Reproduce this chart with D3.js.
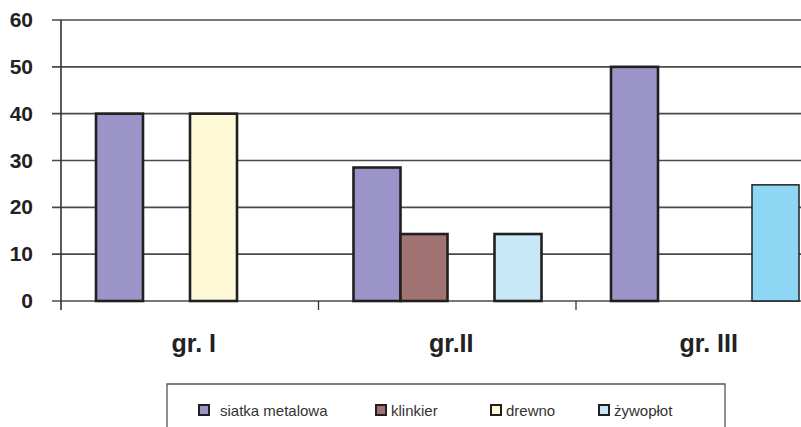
<!DOCTYPE html>
<html><head><meta charset="utf-8">
<script src="https://cdn.jsdelivr.net/npm/d3@7"></script>
<style>body{margin:0;background:#fff}svg{display:block}</style>
</head><body>
<svg id="c" width="801" height="427"></svg>
<script>
const categories = ["gr. I", "gr.II", "gr. III"];
const seriesNames = ["siatka metalowa", "klinkier", "drewno", "żywopłot"];
const siatka = [40, 28.5, 50];
const klinkier = [0, 14.3, 0];
const drewno = [40, 0, 0];
const zywoplot = [0, 14.3, 24.8];
const yTicks = [0, 10, 20, 30, 40, 50, 60];
const colors = ["#9b94c8", "#a07272", "#fefad8", "#c8e8f7"];
const zywoplotGr3Color = "#8dd7f4";

const values = [siatka, klinkier, drewno, zywoplot];
const svg = d3.select("#c");
const font = "Arial, 'Liberation Sans', sans-serif";

const x = d3.scaleBand().domain(categories).range([61, 61 + 257.5 * 3]).paddingInner(0).paddingOuter(0);
const y = d3.scaleLinear().domain([0, 60]).range([301, 20]);
const inner = d3.scaleBand().domain(seriesNames).range([35, 35 + 47 * 4]);

// gridlines
svg.append("g").selectAll("line").data(yTicks).join("line")
  .attr("x1", 52).attr("x2", 801)
  .attr("y1", d => y(d)).attr("y2", d => y(d))
  .attr("stroke", "#4a4a4a").attr("stroke-width", 1.6);

// y axis line
svg.append("line").attr("x1", 61).attr("x2", 61).attr("y1", y(60)).attr("y2", 310)
  .attr("stroke", "#333").attr("stroke-width", 1.6);

// x ticks
svg.append("g").selectAll("line").data(categories.slice(1).concat(["end"])).join("line")
  .attr("x1", (d, i) => 61 + 257.5 * (i + 1)).attr("x2", (d, i) => 61 + 257.5 * (i + 1))
  .attr("y1", 301).attr("y2", 310)
  .attr("stroke", "#333").attr("stroke-width", 1.3);

// y labels
svg.append("g").selectAll("text").data(yTicks).join("text")
  .attr("x", 33).attr("y", d => y(d) + 7)
  .attr("text-anchor", "end")
  .attr("font-family", font).attr("font-weight", "bold").attr("font-size", 21)
  .attr("fill", "#222").text(d => d);

// bars
seriesNames.forEach((s, si) => {
  svg.append("g").selectAll("rect")
    .data(categories.map((c, ci) => ({c, ci, v: values[si][ci]})).filter(d => d.v > 0))
    .join("rect")
    .attr("x", d => x(d.c) + inner(s))
    .attr("width", inner.bandwidth())
    .attr("y", d => y(d.v))
    .attr("height", d => y(0) - y(d.v))
    .attr("fill", d => (si === 3 && d.ci === 2) ? zywoplotGr3Color : colors[si])
    .attr("stroke", "#231f20")
    .attr("stroke-width", d => (si === 3 && d.ci === 2) ? 1.5 : 2.6);
});

// category labels
svg.append("g").selectAll("text").data(categories).join("text")
  .attr("x", d => x(d) + x.bandwidth() / 2 + 4)
  .attr("y", 352)
  .attr("text-anchor", "middle")
  .attr("font-family", font).attr("font-weight", "bold").attr("font-size", 25)
  .attr("fill", "#222").text(d => d);

// legend
svg.append("path").attr("d", "M167,427 V384 H725 V427")
  .attr("fill", "none").attr("stroke", "#555").attr("stroke-width", 1.3);
const legX = [199, 376, 491, 599];
const leg = svg.append("g").selectAll("g").data(seriesNames).join("g")
  .attr("transform", (d, i) => `translate(${legX[i]},405)`);
leg.append("rect").attr("width", 10).attr("height", 10)
  .attr("fill", (d, i) => colors[i]).attr("stroke", "#231f20").attr("stroke-width", 2);
leg.append("text").attr("x", (d, i) => i === 0 ? 21 : 15).attr("y", 10.5)
  .attr("font-family", font).attr("font-size", 15).attr("fill", "#333").text(d => d);
</script>
</body></html>
